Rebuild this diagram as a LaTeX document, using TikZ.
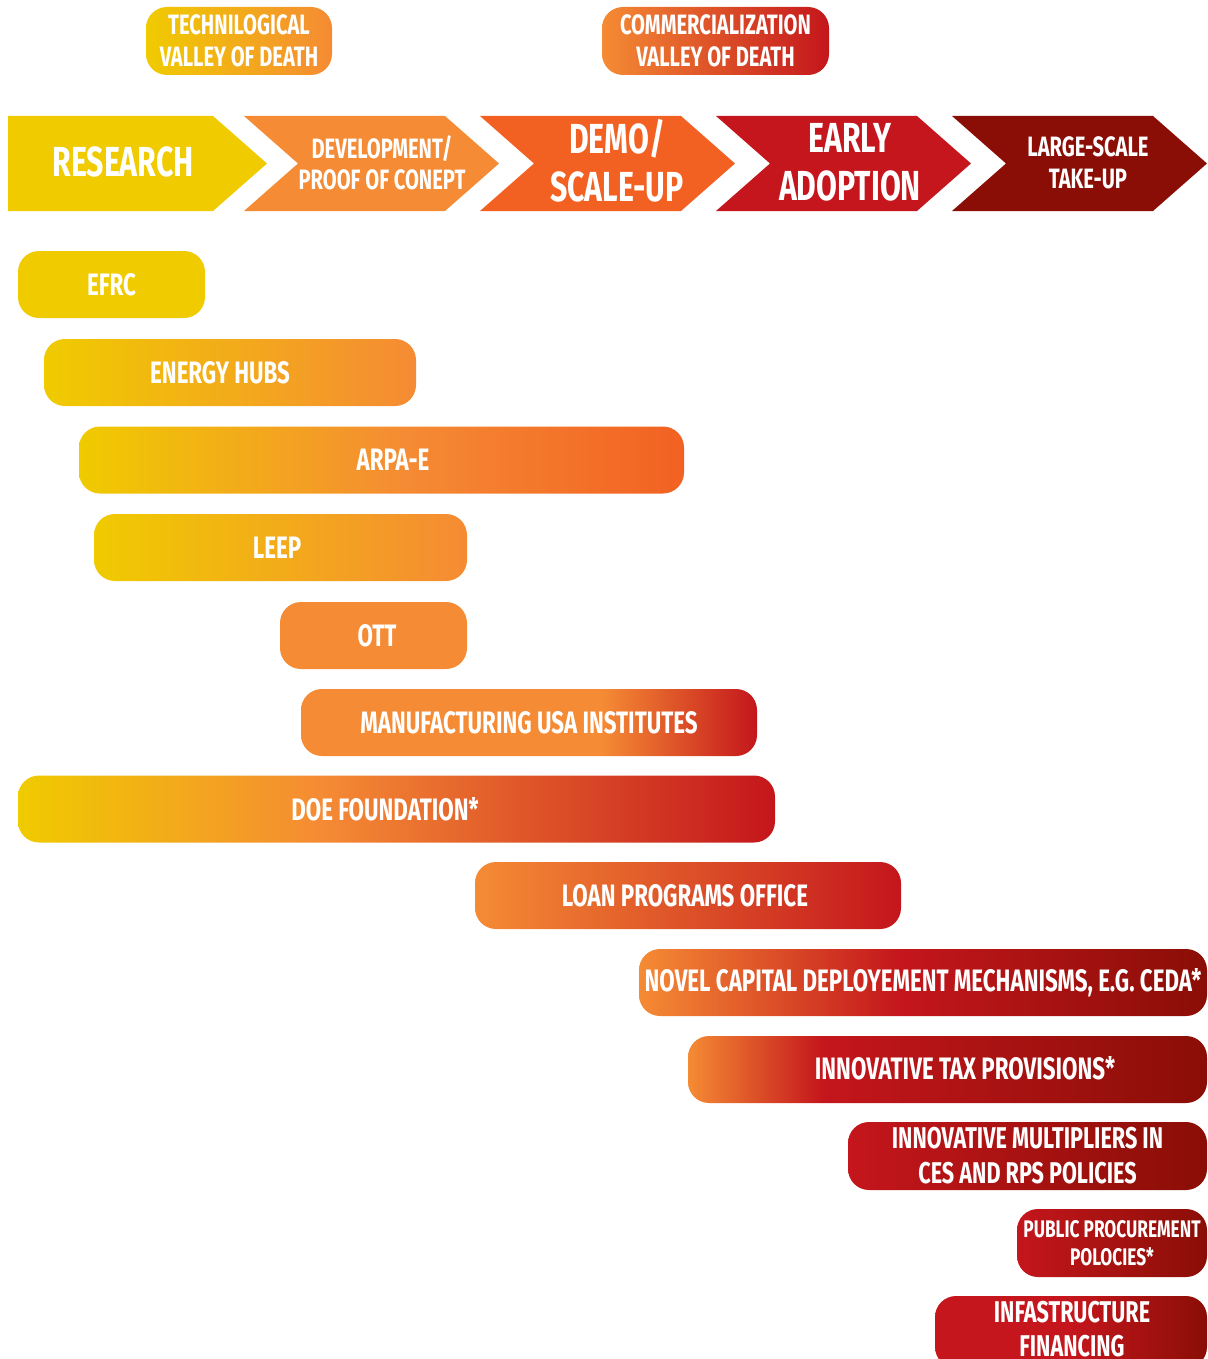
\documentclass[tikz,border=0pt]{standalone}
\usepackage{fontspec}
\newfontfamily\cf[FakeStretch=0.72]{Fira Sans}
\definecolor{cy}{HTML}{F0CB00}
\definecolor{co}{HTML}{F58B34}
\definecolor{cor}{HTML}{F26122}
\definecolor{cr}{HTML}{C4161C}
\definecolor{cdr}{HTML}{8A0E06}
% stops: path spans 25bp..75bp
\pgfdeclarehorizontalshading{gYO}{100bp}{color(0bp)=(cy); color(25bp)=(cy); color(75bp)=(co); color(100bp)=(co)}
\pgfdeclarehorizontalshading{gOR}{100bp}{color(0bp)=(co); color(25bp)=(co); color(75bp)=(cr); color(100bp)=(cr)}
\pgfdeclarehorizontalshading{gArpa}{100bp}{color(0bp)=(cy); color(25bp)=(cy); color(52bp)=(co); color(75bp)=(cor); color(100bp)=(cor)}
\pgfdeclarehorizontalshading{gManu}{100bp}{color(0bp)=(co); color(25bp)=(co); color(58bp)=(co); color(75bp)=(cr); color(100bp)=(cr)}
\pgfdeclarehorizontalshading{gDoe}{100bp}{color(0bp)=(cy); color(25bp)=(cy); color(45bp)=(co); color(75bp)=(cr); color(100bp)=(cr)}
\pgfdeclarehorizontalshading{gNovel}{100bp}{color(0bp)=(co); color(25bp)=(co); color(48bp)=(cr); color(75bp)=(cdr); color(100bp)=(cdr)}
\pgfdeclarehorizontalshading{gTax}{100bp}{color(0bp)=(co); color(25bp)=(co); color(38bp)=(cr); color(75bp)=(cdr); color(100bp)=(cdr)}
\pgfdeclarehorizontalshading{gRD}{100bp}{color(0bp)=(cr); color(25bp)=(cr); color(75bp)=(cdr); color(100bp)=(cdr)}
\pgfdeclarehorizontalshading{gInfra}{100bp}{color(0bp)=(cr); color(25bp)=(cr); color(50bp)=(cr); color(75bp)=(cdr); color(100bp)=(cdr)}
\tikzset{
  bar/.style={rectangle, rounded corners=21pt, inner sep=0pt, minimum height=67pt,
    text=white, font=\cf\bfseries\fontsize{31}{35}\selectfont, align=center},
  lab/.style={inner sep=0pt, text=white, align=center},
  barlab/.style={lab, font=\cf\bfseries\fontsize{31}{35}\selectfont},
}
\begin{document}
\begin{tikzpicture}[x=1pt,y=-1pt]
\path[use as bounding box] (0,0) rectangle (1207,1359);
\clip (0,0) rectangle (1207,1359);
% top valley labels
\node[bar, shade, shading=gYO, minimum width=186pt, minimum height=68pt, font=\cf\bfseries\fontsize{28}{32}\selectfont] (tvd) at (239,41) {TECHNILOGICAL\\VALLEY OF DEATH};
\node[bar, shade, shading=gOR, minimum width=227pt, minimum height=68pt, font=\cf\bfseries\fontsize{28}{32}\selectfont] (cvd) at (715.5,41) {COMMERCIALIZATION\\VALLEY OF DEATH};
% chevrons
\fill[cy] (8,116) -- (213,116) -- (267,163.5) -- (213,211) -- (8,211) -- cycle;
\fill[co] (244,116) -- (445,116) -- (499,163.5) -- (445,211) -- (244,211) -- (298,163.5) -- cycle;
\fill[cor] (480,116) -- (681,116) -- (735,163.5) -- (681,211) -- (480,211) -- (534,163.5) -- cycle;
\fill[cr] (716,116) -- (917,116) -- (971,163.5) -- (917,211) -- (716,211) -- (770,163.5) -- cycle;
\fill[cdr] (952,116) -- (1153,116) -- (1207,163.5) -- (1153,211) -- (952,211) -- (1006,163.5) -- cycle;
\node[lab, font=\cf\bfseries\fontsize{42}{48}\selectfont] (res) at (123,162) {RESEARCH};
\node[lab, font=\cf\bfseries\fontsize{28}{31}\selectfont] (dev) at (382,163) {DEVELOPMENT/\\PROOF OF CONEPT};
\node[lab, font=\cf\bfseries\fontsize{42}{48}\selectfont] (demo) at (617,161) {DEMO/\\SCALE-UP};
\node[lab, font=\cf\bfseries\fontsize{42}{48}\selectfont] (early) at (850,162) {EARLY\\ADOPTION};
\node[lab, font=\cf\bfseries\fontsize{28}{32}\selectfont] (large) at (1088,163) {LARGE-SCALE\\TAKE-UP};
% bars
\node[bar, fill=cy, minimum width=187pt] (efrc) at (111.5,284.5) {EFRC};
\node[bar, shade, shading=gYO, minimum width=372pt] (hubs) at (230,372.5) {};
\node[barlab] (hubs-t) at (220,372.5) {ENERGY HUBS};
\node[bar, shade, shading=gArpa, minimum width=605pt] (arpa) at (381.5,460) {};
\node[barlab] (arpa-t) at (393,460) {ARPA-E};
\node[bar, shade, shading=gYO, minimum width=373pt] (leep) at (280.5,547.5) {};
\node[barlab] (leep-t) at (277,547.5) {LEEP};
\node[bar, fill=co, minimum width=187pt] (ott) at (373.5,635.5) {};
\node[barlab] (ott-t) at (377,635.5) {OTT};
\node[bar, shade, shading=gManu, minimum width=456pt] (manu) at (529,722.5) {MANUFACTURING USA INSTITUTES};
\node[bar, shade, shading=gDoe, minimum width=757pt] (doe) at (396.5,809) {};
\node[barlab] (doe-t) at (385,809) {DOE FOUNDATION*};
\node[bar, shade, shading=gOR, minimum width=426pt] (loan) at (688,895.5) {};
\node[barlab] (loan-t) at (685,895.5) {LOAN PROGRAMS OFFICE};
\node[bar, shade, shading=gNovel, minimum width=568pt] (novel) at (923,982.5) {NOVEL CAPITAL DEPLOYEMENT MECHANISMS, E.G. CEDA*};
\node[bar, shade, shading=gTax, minimum width=519pt] (tax) at (947.5,1069.5) {};
\node[barlab] (tax-t) at (965,1068.5) {INNOVATIVE TAX PROVISIONS*};
\node[bar, shade, shading=gRD, minimum width=359pt, minimum height=68pt, font=\cf\bfseries\fontsize{30}{35}\selectfont] (mult) at (1027.5,1156) {INNOVATIVE MULTIPLIERS IN\\CES AND RPS POLICIES};
\node[bar, shade, shading=gRD, minimum width=190pt, minimum height=68pt, font=\cf\bfseries\fontsize{24}{28}\selectfont] (pub) at (1112,1243) {PUBLIC PROCUREMENT\\POLOCIES*};
\node[bar, shade, shading=gInfra, minimum width=272pt, minimum height=72pt] (infra) at (1071,1332) {};
\node[lab, font=\cf\bfseries\fontsize{30}{34}\selectfont] (infra-t) at (1072,1329) {INFASTRUCTURE\\FINANCING};
\end{tikzpicture}
\end{document}
